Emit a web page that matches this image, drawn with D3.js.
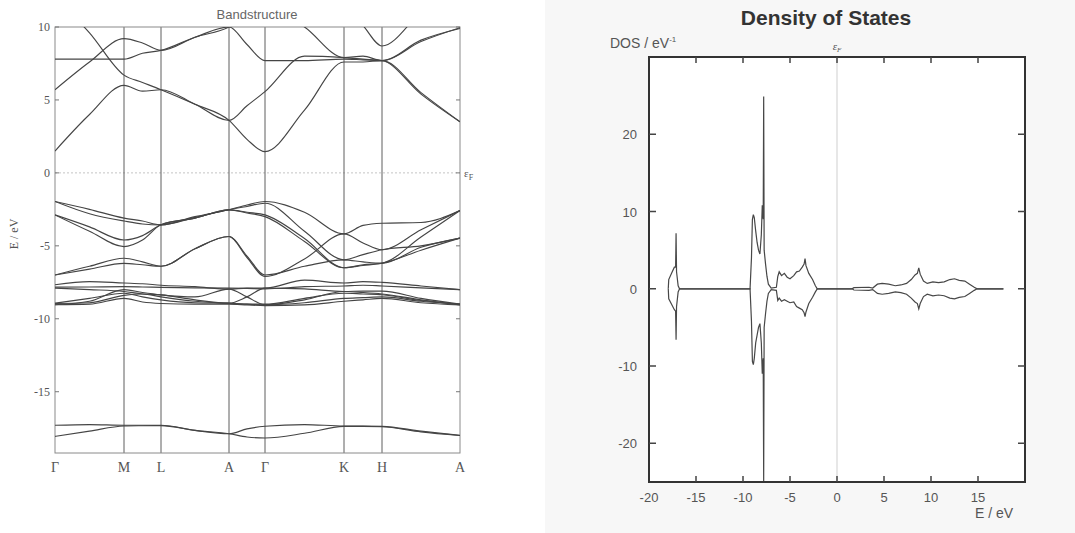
<!DOCTYPE html>
<html>
<head>
<meta charset="utf-8">
<script src="https://cdn.jsdelivr.net/npm/d3@7"></script>
<style>
  body { margin: 0; background: #fff; }
  svg { display: block; }
  .band { fill: none; stroke: #454545; stroke-width: 1.15px; }
  .sym { stroke: #5f5f5f; stroke-width: 1px; }
  .frame { fill: none; stroke: #8a8a8a; stroke-width: 1px; }
  .fermi { stroke: #c4c4c4; stroke-width: 1px; stroke-dasharray: 2 2; }
  .serif { font-family: 'Liberation Serif', 'DejaVu Serif', serif; fill: #555; }
  .sans { font-family: 'Liberation Sans', Arial, sans-serif; fill: #555; }
  .dos { fill: none; stroke: #474747; stroke-width: 1.2px; }
</style>
</head>
<body>
<svg id="chart" width="1075" height="533"></svg>
<script>
//band structure data
const kLabels = ['Γ', 'M', 'L', 'A', 'Γ', 'K', 'H', 'A']
const kTicks = [0, 69, 106, 174, 210, 289, 327, 405]
const kPath = [0, 34.5, 69, 87.5, 106, 140, 174, 192, 210, 249.5, 289, 308, 327, 366, 405]
const energyTicks = [10, 5, 0, -5, -10, -15]

//values at kPath: Γ . M . L . A . Γ . K . H . A
const conductionBands = [
  [1.5, 4.0, 6.0, 5.6, 5.7, 4.7, 3.6, 2.3, 1.46, 4.3, 7.6, 7.6, 7.7, 5.5, 3.5],
  [5.7, 7.6, 9.2, 8.9, 8.4, 9.3, 10.0, 8.8, 7.7, 7.7, 7.8, 7.75, 7.7, 9.1, 9.9],
  [7.8, 7.8, 7.8, 8.2, 8.4, 9.3, 10.0, 10.8, 11.5, 10.0, 7.9, 8.0, 7.7, 9.0, 9.95],
  [12.0, 9.6, 6.7, 6.2, 5.7, 4.7, 3.6, 4.6, 5.57, 8.0, 7.9, 7.8, 7.7, 5.4, 3.5],
  [13.0, 13.0, 12.0, 12.0, 12.0, 12.0, 12.0, 12.0, 12.0, 12.0, 11.5, 10.1, 8.7, 11.0, 13.0]
]
const valenceBands = [
  [-1.96, -2.5, -3.1, -3.3, -3.56, -3.0, -2.53, -2.2, -1.96, -2.7, -4.18, -3.6, -3.45, -3.4, -2.58],
  [-1.96, -2.8, -3.3, -3.5, -3.56, -3.05, -2.53, -2.3, -2.08, -4.0, -5.96, -5.6, -5.27, -5.0, -4.47],
  [-2.88, -3.7, -4.6, -4.3, -3.56, -3.1, -2.53, -2.7, -2.88, -4.5, -6.5, -6.35, -6.19, -5.3, -4.47],
  [-2.88, -4.0, -5.05, -4.6, -3.56, -3.1, -2.53, -2.75, -3.0, -4.7, -6.5, -6.3, -6.19, -4.4, -2.58],
  [-7.0, -6.4, -5.85, -6.1, -6.4, -5.2, -4.36, -5.7, -7.0, -6.4, -5.96, -6.1, -6.19, -5.1, -4.47],
  [-7.0, -6.6, -6.2, -6.3, -6.4, -5.2, -4.36, -5.8, -7.1, -5.9, -4.18, -4.8, -5.27, -3.9, -2.58]
]
const lowerBands = [
  [-7.67, -7.45, -7.55, -7.6, -7.7, -7.8, -7.97, -7.9, -7.9, -7.35, -7.55, -7.45, -7.5, -7.75, -8.0],
  [-7.83, -7.82, -7.8, -7.82, -7.85, -7.88, -7.9, -7.92, -7.95, -7.8, -7.75, -7.7, -7.75, -7.88, -8.0],
  [-7.9, -8.0, -8.13, -8.3, -8.36, -8.7, -8.93, -8.5, -7.9, -7.95, -8.13, -8.1, -8.1, -8.6, -9.0],
  [-8.93, -8.6, -8.25, -8.5, -8.7, -8.9, -8.93, -9.0, -9.04, -8.9, -8.6, -8.55, -8.5, -8.8, -9.0],
  [-9.04, -8.8, -8.0, -8.2, -8.36, -8.5, -7.97, -8.5, -9.04, -8.7, -8.13, -8.2, -8.3, -8.7, -9.05],
  [-9.04, -9.0, -8.6, -8.85, -8.95, -9.0, -9.0, -9.05, -9.1, -9.05, -8.8, -8.7, -8.6, -8.9, -9.05],
  [-8.95, -8.9, -8.4, -8.3, -8.5, -8.8, -8.95, -9.0, -9.0, -8.6, -8.25, -8.3, -8.35, -8.75, -9.0]
]
const semicoreBands = [
  [-17.3, -17.25, -17.3, -17.3, -17.3, -17.65, -17.88, -17.55, -17.37, -17.25, -17.35, -17.35, -17.37, -17.7, -17.99],
  [-18.06, -17.7, -17.35, -17.33, -17.32, -17.65, -17.88, -18.1, -18.17, -17.85, -17.38, -17.38, -17.4, -17.75, -18.0]
]

//density of states data
const dosEnergy = [
  -17.95, -17.9, -17.6, -17.3, -17.17, -17.12, -17.07, -16.9, -16.75,
  -9.25, -9.1, -9.0, -8.9, -8.8, -8.65, -8.5, -8.35, -8.2, -8.05, -7.95, -7.85, -7.8, -7.75, -7.6, -7.45, -7.3, -7.0,
  -6.45, -6.3, -6.15, -5.9, -5.6, -5.3, -5.0, -4.6, -4.3, -4.0, -3.7, -3.5, -3.4, -3.3, -3.0, -2.6, -2.3, -2.1,
  1.6, 1.8, 3.4, 3.8, 4.3, 4.8, 5.5, 6.2, 6.8, 7.4, 7.9, 8.3, 8.55, 8.7, 8.85, 9.2, 9.6, 10.2, 10.8, 11.4, 12.0, 12.5, 13.0, 13.6, 14.1, 14.6, 14.9, 17.7
]
const dosUp = [
  0, 1.2, 2.0, 2.8, 2.8, 7.2, 2.2, 0.4, 0,
  0, 4.0, 9.0, 9.6, 9.2, 7.5, 6.0, 5.0, 4.5, 7.0, 10.8, 9.0, 24.9, 5.0, 3.2, 1.6, 0.6, 0.1,
  0.2, 1.6, 2.2, 1.7, 2.0, 1.5, 1.3, 1.7, 2.2, 2.3, 2.8, 3.2, 3.9, 3.0, 2.0, 1.2, 0.4, 0,
  0, 0.15, 0.2, 0.1, 0.6, 0.7, 0.6, 0.4, 0.5, 0.7, 1.2, 1.8, 2.0, 2.7, 1.9, 1.0, 0.7, 0.9, 0.8, 0.9, 1.2, 1.3, 1.1, 1.0, 0.6, 0.2, 0, 0
]
const dosDown = [
  0, -1.3, -2.0, -2.7, -2.9, -6.6, -2.3, -0.4, 0,
  0, -4.2, -9.4, -9.8, -9.0, -7.0, -6.0, -5.0, -4.5, -7.0, -11.0, -9.0, -25.0, -5.0, -3.2, -1.6, -0.6, -0.1,
  -0.2, -1.5, -1.2, -1.6, -1.4, -1.6, -1.8, -1.7, -2.3, -2.5, -2.7, -3.1, -3.6, -3.0, -1.9, -1.1, -0.4, 0,
  0, -0.15, -0.2, -0.1, -0.6, -0.7, -0.6, -0.4, -0.5, -0.7, -1.2, -1.7, -1.9, -2.6, -1.9, -1.0, -0.7, -0.9, -0.8, -0.9, -1.2, -1.3, -1.1, -1.0, -0.6, -0.2, 0, 0
]
const dosXTicks = [-20, -15, -10, -5, 0, 5, 10, 15]
const dosYTicks = [20, 10, 0, -10, -20]

const svg = d3.select('#chart')

//light scan tone behind the dos panel
svg.append('rect')
  .attr('x', 545).attr('y', 0).attr('width', 530).attr('height', 533)
  .attr('fill', '#f7f7f7')

//---------- band structure ----------
const bx = d3.scaleLinear().domain([0, 405]).range([55, 460])
const by = d3.scaleLinear().domain([-19.2, 10]).range([453, 27])

svg.append('clipPath').attr('id', 'bandClip')
  .append('rect')
  .attr('x', bx.range()[0]).attr('y', by.range()[1])
  .attr('width', bx.range()[1] - bx.range()[0])
  .attr('height', by.range()[0] - by.range()[1])

let band = svg.append('g')

//fermi level
band.append('line')
  .attr('class', 'fermi')
  .attr('x1', bx(0)).attr('x2', bx(405))
  .attr('y1', by(0)).attr('y2', by(0))

//symmetry lines
band.selectAll('.sym')
  .data(kTicks.slice(1, -1))
  .enter()
  .append('line')
  .attr('class', 'sym')
  .attr('x1', d => bx(d)).attr('x2', d => bx(d))
  .attr('y1', by(10)).attr('y2', by(-19.2))

//frame
band.append('rect')
  .attr('class', 'frame')
  .attr('x', bx(0)).attr('y', by(10))
  .attr('width', bx(405) - bx(0))
  .attr('height', by(-19.2) - by(10))

//axis ticks
band.selectAll('.ytick')
  .data(energyTicks)
  .enter()
  .append('path')
  .attr('d', d => 'M' + bx(0) + ',' + by(d) + 'h4M' + bx(405) + ',' + by(d) + 'h-4')
  .attr('stroke', '#777')

//bands
const bandLine = d3.line()
  .x((d, i) => bx(kPath[i]))
  .y(d => by(d))
  .curve(d3.curveMonotoneX)

band.append('g')
  .attr('clip-path', 'url(#bandClip)')
  .selectAll('path')
  .data(conductionBands.concat(valenceBands, lowerBands, semicoreBands))
  .enter()
  .append('path')
  .attr('class', 'band')
  .attr('d', bandLine)

//labels
band.selectAll('.ylabel')
  .data(energyTicks)
  .enter()
  .append('text')
  .attr('class', 'serif')
  .attr('x', 50).attr('y', d => by(d) + 4)
  .attr('text-anchor', 'end')
  .attr('font-size', 12)
  .text(d => d)

band.selectAll('.klabel')
  .data(kTicks)
  .enter()
  .append('text')
  .attr('class', 'serif')
  .attr('x', d => bx(d)).attr('y', 472)
  .attr('text-anchor', 'middle')
  .attr('font-size', 14)
  .text((d, i) => kLabels[i])

band.append('text')
  .attr('class', 'sans')
  .attr('x', 257).attr('y', 19)
  .attr('text-anchor', 'middle')
  .attr('font-size', 13)
  .attr('font-family', 'DejaVu Sans, sans-serif')
  .style('fill', '#666')
  .text('Bandstructure')

band.append('text')
  .attr('class', 'serif')
  .attr('transform', 'translate(18,234) rotate(-90)')
  .attr('text-anchor', 'middle')
  .attr('font-size', 12)
  .text('E / eV')

band.append('text')
  .attr('class', 'serif')
  .attr('x', 464).attr('y', by(0) + 4)
  .attr('font-size', 11)
  .html('ε<tspan font-size="8" dy="3">F</tspan>')

//---------- density of states ----------
const dx = d3.scaleLinear().domain([-20, 20]).range([649, 1025])
const dy = d3.scaleLinear().domain([-25, 30]).range([482, 57])

let dos = svg.append('g')

dos.append('rect')
  .attr('x', dx(-20)).attr('y', dy(30))
  .attr('width', dx(20) - dx(-20))
  .attr('height', dy(-25) - dy(30))
  .attr('fill', '#fff')

//fermi line
dos.append('line')
  .attr('x1', dx(0)).attr('x2', dx(0))
  .attr('y1', dy(30)).attr('y2', dy(-25))
  .attr('stroke', '#cfcfcf')

//curves
const dosLine = values => d3.line()
  .x((d, i) => dx(dosEnergy[i]))
  .y((d, i) => dy(values[i]))(dosEnergy)

dos.append('path').attr('class', 'dos').attr('d', dosLine(dosUp))
dos.append('path').attr('class', 'dos').attr('d', dosLine(dosDown))

//frame
dos.append('rect')
  .attr('x', dx(-20)).attr('y', dy(30))
  .attr('width', dx(20) - dx(-20))
  .attr('height', dy(-25) - dy(30))
  .attr('fill', 'none')
  .attr('stroke', '#333')
  .attr('stroke-width', 2)

//ticks
dos.selectAll('.xt')
  .data(dosXTicks.slice(1))
  .enter()
  .append('path')
  .attr('d', d => 'M' + dx(d) + ',' + dy(-25) + 'v-6M' + dx(d) + ',' + dy(30) + 'v6')
  .attr('stroke', '#444').attr('stroke-width', 1.5)

dos.selectAll('.yt')
  .data(dosYTicks)
  .enter()
  .append('path')
  .attr('d', d => 'M' + dx(-20) + ',' + dy(d) + 'h7M' + dx(20) + ',' + dy(d) + 'h-7')
  .attr('stroke', '#444').attr('stroke-width', 1.5)

//tick labels
dos.selectAll('.xl')
  .data(dosXTicks)
  .enter()
  .append('text')
  .attr('class', 'sans')
  .attr('x', d => dx(d)).attr('y', 502)
  .attr('text-anchor', 'middle')
  .attr('font-size', 13)
  .text(d => d)

dos.selectAll('.yl')
  .data(dosYTicks)
  .enter()
  .append('text')
  .attr('class', 'sans')
  .attr('x', 637).attr('y', d => dy(d) + 5)
  .attr('text-anchor', 'end')
  .attr('font-size', 13)
  .text(d => d)

//titles
dos.append('text')
  .attr('class', 'sans')
  .attr('x', 826).attr('y', 25)
  .attr('text-anchor', 'middle')
  .attr('font-size', 21)
  .attr('font-weight', 'bold')
  .style('fill', '#333')
  .text('Density of States')

dos.append('text')
  .attr('class', 'sans')
  .attr('x', 610).attr('y', 48)
  .attr('font-size', 14)
  .html('DOS / eV<tspan font-size="8" dy="-6">-1</tspan>')

dos.append('text')
  .attr('class', 'serif')
  .attr('x', dx(0)).attr('y', 50)
  .attr('text-anchor', 'middle')
  .attr('font-size', 11)
  .attr('font-style', 'italic')
  .html('ε<tspan font-size="7" dy="2">F</tspan>')

dos.append('text')
  .attr('class', 'sans')
  .attr('x', 975).attr('y', 518)
  .attr('font-size', 14)
  .text('E / eV')
</script>
</body>
</html>
